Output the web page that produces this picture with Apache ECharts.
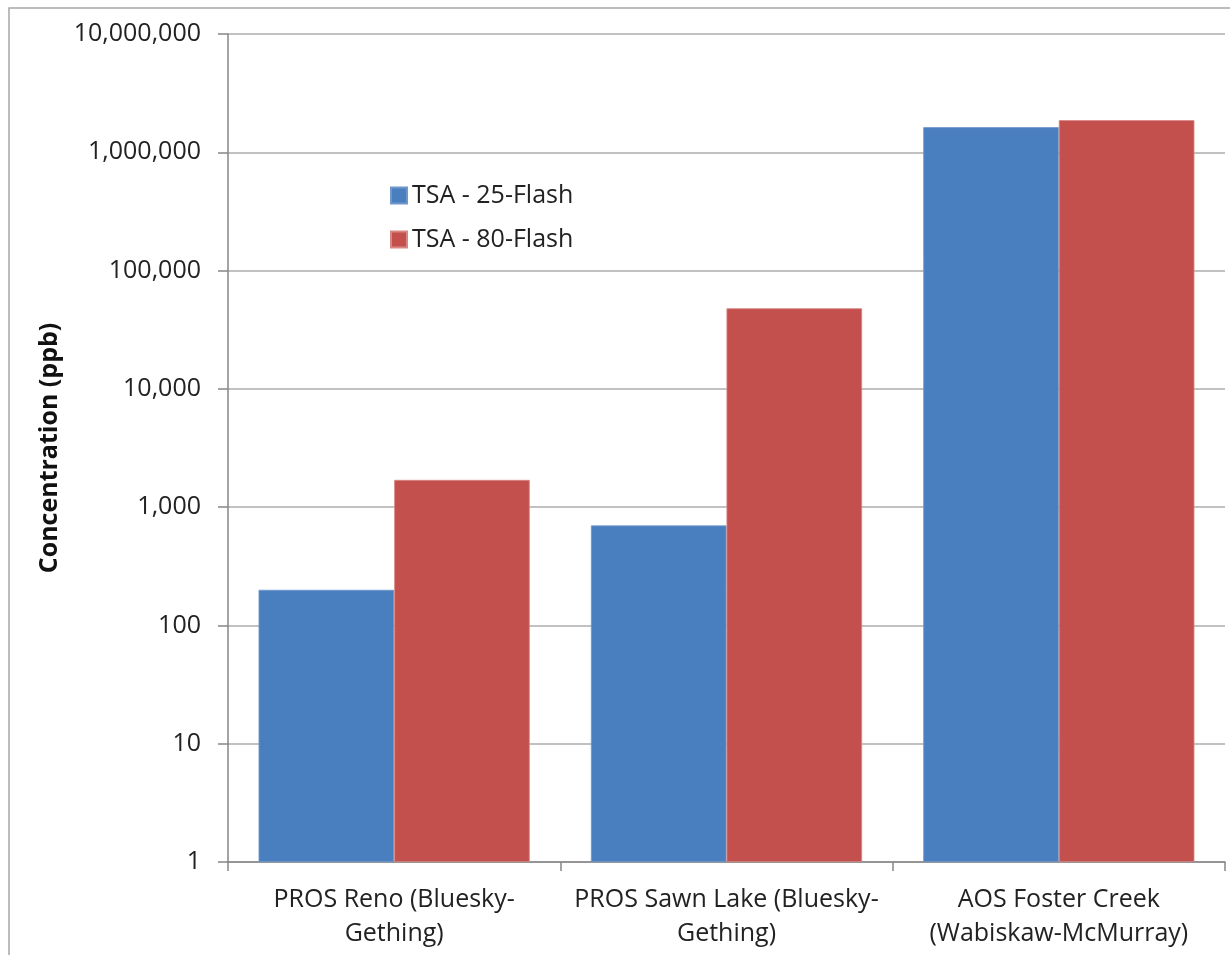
<!DOCTYPE html>
<html><head><meta charset="utf-8">
<script src="https://cdn.jsdelivr.net/npm/echarts@6/dist/echarts.min.js"></script>
<style>html,body{margin:0;padding:0;background:#fff}#c{width:1230px;height:955px}</style>
</head><body><div id="c"></div>
<script>
const categories = ["PROS Reno (Bluesky-\nGething)", "PROS Sawn Lake (Bluesky-\nGething)", "AOS Foster Creek\n(Wabiskaw-McMurray)"];
const seriesNames = ["TSA - 25-Flash", "TSA - 80-Flash"];
const tsa25 = [200, 700, 1630000];
const tsa80 = [1700, 48000, 1870000];
const yTicks = [1, 10, 100, 1000, 10000, 100000, 1000000, 10000000];
const yTitle = "Concentration (ppb)";

const FONT = "Open Sans";
const chart = echarts.init(document.getElementById('c'));
chart.setOption({
  animation: false,
  textStyle: { fontFamily: FONT },
  graphic: [{ type: 'rect', shape: { x: 9, y: 8, width: 1300, height: 1100 }, style: { fill: 'none', stroke: '#a6a6a6', lineWidth: 1.5 }, silent: true }],
  grid: { left: 228, right: 5, top: 34, bottom: 93, containLabel: false },
  legend: {
    orient: 'vertical', left: 385, top: 178, itemWidth: 16, itemHeight: 16, itemGap: 19,
    icon: 'rect', textStyle: { fontSize: 25, color: '#222', fontFamily: FONT },
    data: seriesNames
  },
  xAxis: {
    type: 'category', data: categories,
    axisLine: { lineStyle: { color: '#868686', width: 1.5 } },
    axisTick: { show: true, length: 9, lineStyle: { color: '#868686', width: 1.5 } },
    axisLabel: { fontSize: 25, color: '#222', margin: 21, lineHeight: 34, interval: 0, fontFamily: FONT }
  },
  yAxis: {
    type: 'log', logBase: 10, min: yTicks[0], max: yTicks[yTicks.length - 1],
    name: yTitle, nameLocation: 'middle', nameGap: 162, nameRotate: 90,
    nameTextStyle: { fontSize: 25, fontWeight: 'bold', color: '#111', fontFamily: FONT },
    axisLine: { show: true, lineStyle: { color: '#868686', width: 1.5 } },
    axisTick: { show: true, length: 10, lineStyle: { color: '#868686', width: 1.5 } },
    minorTick: { show: false },
    splitLine: { show: true, lineStyle: { color: '#acacac', width: 1.5 } },
    axisLabel: { fontSize: 25, color: '#222', margin: 27, fontFamily: FONT,
      formatter: v => Math.round(v).toLocaleString('en-US') }
  },
  series: [
    { name: seriesNames[0], type: 'bar', data: tsa25, barGap: '0%', barCategoryGap: '18.4%',
      itemStyle: { color: '#4A7FBF', borderColor: '#6f97cc', borderWidth: 0.8 } },
    { name: seriesNames[1], type: 'bar', data: tsa80, barGap: '0%', barCategoryGap: '18.4%',
      itemStyle: { color: '#C4504E', borderColor: '#d98784', borderWidth: 0.8 } }
  ]
});
</script></body></html>
